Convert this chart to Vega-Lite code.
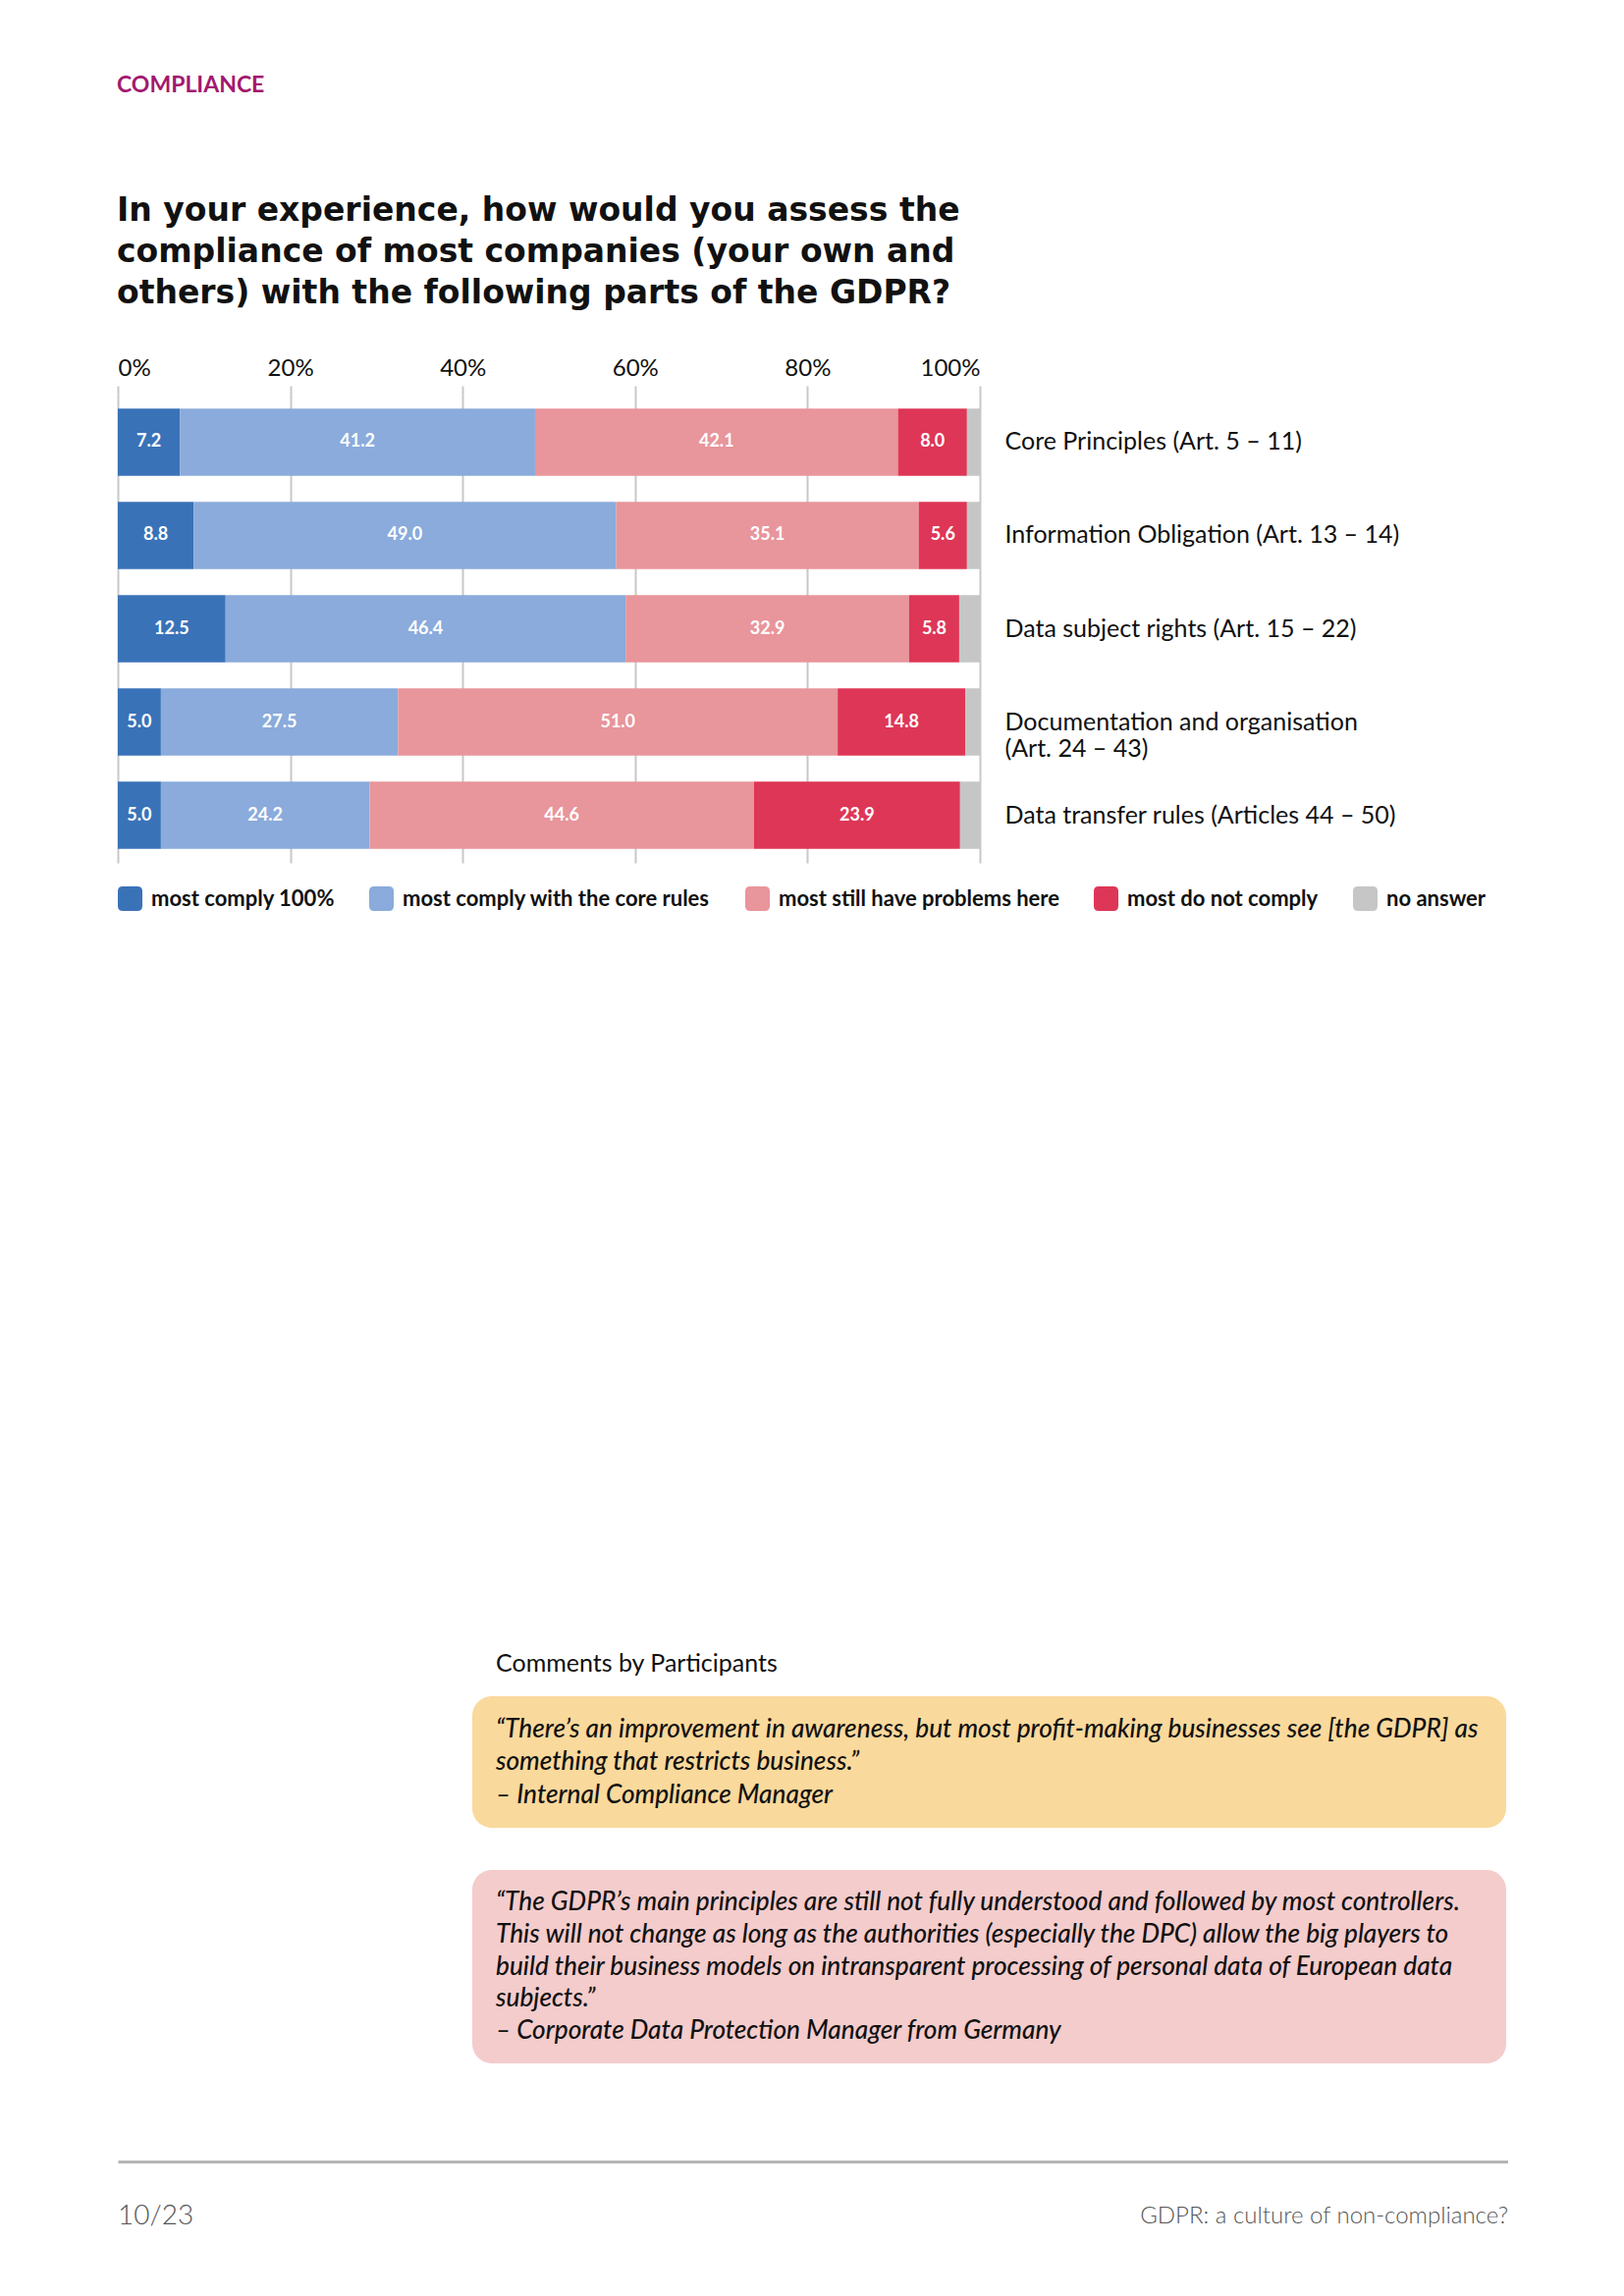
{
  "$schema": "https://vega.github.io/schema/vega-lite/v6.json",
  "background": "white",
  "padding": {"left": 119, "top": 76, "right": 0, "bottom": 0},
  "config": {
    "view": {"stroke": null},
    "font": "Lato",
    "text": {"font": "Lato"}
  },
  "resolve": {"legend": {"color": "independent"}, "scale": {"color": "independent", "x": "independent", "y": "independent"}},
  "spacing": 755,
  "vconcat": [
    {
      "title": {
        "text": "COMPLIANCE",
        "subtitle": ["In your experience, how would you assess the", "compliance of most companies (your own and", "others) with the following parts of the GDPR?"],
        "anchor": "start",
        "font": "Lato",
        "fontSize": 23,
        "fontWeight": "bold",
        "letterSpacing": 1.2,
        "color": "#a2186f",
        "subtitleFont": "DejaVu Sans",
        "subtitleFontSize": 33,
        "subtitleFontWeight": "bold",
        "subtitleColor": "#111111",
        "subtitleLineHeight": 42,
        "subtitlePadding": 100,
        "offset": 47
      },
      "width": 878,
      "height": 477,
      "data": {
        "values": [
          {"topic": "Core Principles (Art. 5 – 11)", "response": "most comply 100%", "idx": 1, "value": 7.2},
          {"topic": "Core Principles (Art. 5 – 11)", "response": "most comply with the core rules", "idx": 2, "value": 41.2},
          {"topic": "Core Principles (Art. 5 – 11)", "response": "most still have problems here", "idx": 3, "value": 42.1},
          {"topic": "Core Principles (Art. 5 – 11)", "response": "most do not comply", "idx": 4, "value": 8.0},
          {"topic": "Core Principles (Art. 5 – 11)", "response": "no answer", "idx": 5, "value": 1.5},
          {"topic": "Information Obligation (Art. 13 – 14)", "response": "most comply 100%", "idx": 1, "value": 8.8},
          {"topic": "Information Obligation (Art. 13 – 14)", "response": "most comply with the core rules", "idx": 2, "value": 49.0},
          {"topic": "Information Obligation (Art. 13 – 14)", "response": "most still have problems here", "idx": 3, "value": 35.1},
          {"topic": "Information Obligation (Art. 13 – 14)", "response": "most do not comply", "idx": 4, "value": 5.6},
          {"topic": "Information Obligation (Art. 13 – 14)", "response": "no answer", "idx": 5, "value": 1.5},
          {"topic": "Data subject rights (Art. 15 – 22)", "response": "most comply 100%", "idx": 1, "value": 12.5},
          {"topic": "Data subject rights (Art. 15 – 22)", "response": "most comply with the core rules", "idx": 2, "value": 46.4},
          {"topic": "Data subject rights (Art. 15 – 22)", "response": "most still have problems here", "idx": 3, "value": 32.9},
          {"topic": "Data subject rights (Art. 15 – 22)", "response": "most do not comply", "idx": 4, "value": 5.8},
          {"topic": "Data subject rights (Art. 15 – 22)", "response": "no answer", "idx": 5, "value": 2.4},
          {"topic": "Documentation and organisation|(Art. 24 – 43)", "response": "most comply 100%", "idx": 1, "value": 5.0},
          {"topic": "Documentation and organisation|(Art. 24 – 43)", "response": "most comply with the core rules", "idx": 2, "value": 27.5},
          {"topic": "Documentation and organisation|(Art. 24 – 43)", "response": "most still have problems here", "idx": 3, "value": 51.0},
          {"topic": "Documentation and organisation|(Art. 24 – 43)", "response": "most do not comply", "idx": 4, "value": 14.8},
          {"topic": "Documentation and organisation|(Art. 24 – 43)", "response": "no answer", "idx": 5, "value": 1.7},
          {"topic": "Data transfer rules (Articles 44 – 50)", "response": "most comply 100%", "idx": 1, "value": 5.0},
          {"topic": "Data transfer rules (Articles 44 – 50)", "response": "most comply with the core rules", "idx": 2, "value": 24.2},
          {"topic": "Data transfer rules (Articles 44 – 50)", "response": "most still have problems here", "idx": 3, "value": 44.6},
          {"topic": "Data transfer rules (Articles 44 – 50)", "response": "most do not comply", "idx": 4, "value": 23.9},
          {"topic": "Data transfer rules (Articles 44 – 50)", "response": "no answer", "idx": 5, "value": 2.3}
        ]
      },
      "encoding": {
        "y": {
          "field": "topic",
          "type": "nominal",
          "sort": null,
          "scale": {"paddingInner": 0.28, "paddingOuter": 0.15},
          "axis": {
            "orient": "right",
            "title": null,
            "domain": false,
            "ticks": false,
            "labelPadding": 25,
            "labelFont": "Lato",
            "labelFontSize": 25,
            "labelColor": "#111111",
            "labelLimit": 700,
            "labelLineHeight": 27,
            "labelExpr": "split(datum.label, '|')"
          }
        }
      },
      "layer": [
        {
          "mark": {"type": "bar"},
          "encoding": {
            "x": {
              "field": "value",
              "type": "quantitative",
              "stack": "zero",
              "scale": {"domain": [0, 100], "nice": false},
              "axis": {
                "orient": "top",
                "title": null,
                "values": [0, 20, 40, 60, 80, 100],
                "labelExpr": "datum.value + '%'",
                "labelFont": "Lato",
                "labelFontSize": 24,
                "labelColor": "#111111",
                "labelFlush": true,
                "labelPadding": 6,
                "domain": false,
                "grid": true,
                "gridColor": "#c8c8c8",
                "gridWidth": 2,
                "tickColor": "#c8c8c8",
                "tickWidth": 2,
                "tickSize": 9
              }
            },
            "color": {
              "field": "response",
              "type": "nominal",
              "scale": {
                "domain": ["most comply 100%", "most comply with the core rules", "most still have problems here", "most do not comply", "no answer"],
                "range": ["#3a72b8", "#8aabdb", "#e8959b", "#de3656", "#c6c6c6"]
              },
              "legend": {
                "orient": "bottom",
                "direction": "horizontal",
                "title": null,
                "offset": 24,
                "symbolType": "M-0.6,-1H0.6Q1,-1,1,-0.6V0.6Q1,1,0.6,1H-0.6Q-1,1,-1,0.6V-0.6Q-1,-1,-0.6,-1Z",
                "symbolSize": 625,
                "symbolStrokeWidth": 0,
                "symbolOpacity": 1,
                "labelFont": "Lato",
                "labelFontSize": 22,
                "labelFontWeight": "bold",
                "labelColor": "#111111",
                "labelOffset": 9,
                "labelLimit": 500,
                "columnPadding": 35
              }
            },
            "order": {"field": "idx", "type": "quantitative"}
          }
        },
        {
          "transform": [{"filter": "datum.response != 'no answer'"}],
          "mark": {"type": "text", "color": "white", "font": "Lato", "fontSize": 18, "fontWeight": "bold", "align": "center", "baseline": "middle"},
          "encoding": {
            "x": {"field": "value", "type": "quantitative", "stack": "zero", "bandPosition": 0.5},
            "text": {"field": "value", "type": "quantitative", "format": ".1f"},
            "order": {"field": "idx", "type": "quantitative"}
          }
        }
      ]
    },
    {
      "spacing": 100,
      "vconcat": [
        {
          "spacing": 0,
          "hconcat": [
            {
              "width": 361,
              "height": 10,
              "data": {"values": []},
              "mark": "text",
              "encoding": {}
            },
            {
              "spacing": 43,
              "vconcat": [
                {
                  "title": {
                    "text": "Comments by Participants",
                    "anchor": "start",
                    "dx": 24,
                    "font": "Lato",
                    "fontSize": 25,
                    "fontWeight": "normal",
                    "color": "#111111",
                    "offset": 20
                  },
                  "width": 1053,
                  "height": 134,
                  "view": {"fill": "#fad99c", "cornerRadius": 20, "stroke": null},
                  "data": {
                    "values": [
                      {"line": 1, "text": "“There’s an improvement in awareness, but most profit-making businesses see [the GDPR] as"},
                      {"line": 2, "text": "something that restricts business.”"},
                      {"line": 3, "text": "– Internal Compliance Manager"}
                    ]
                  },
                  "mark": {"type": "text", "align": "left", "baseline": "middle", "font": "Lato", "fontSize": 26.2, "fontStyle": "italic", "fontWeight": 500, "color": "#111111"},
                  "encoding": {
                    "x": {"datum": 0, "type": "quantitative", "scale": {"domain": [-0.0233, 1]}, "axis": null},
                    "y": {"field": "line", "type": "ordinal", "scale": {"type": "point", "padding": 1.2}, "axis": null},
                    "text": {"field": "text"}
                  }
                },
                {
                  "width": 1053,
                  "height": 197,
                  "view": {"fill": "#f4cccc", "cornerRadius": 20, "stroke": null},
                  "data": {
                    "values": [
                      {"line": 1, "text": "“The GDPR’s main principles are still not fully understood and followed by most controllers."},
                      {"line": 2, "text": "This will not change as long as the authorities (especially the DPC) allow the big players to"},
                      {"line": 3, "text": "build their business models on intransparent processing of personal data of European data"},
                      {"line": 4, "text": "subjects.”"},
                      {"line": 5, "text": "– Corporate Data Protection Manager from Germany"}
                    ]
                  },
                  "mark": {"type": "text", "align": "left", "baseline": "middle", "font": "Lato", "fontSize": 26.2, "fontStyle": "italic", "fontWeight": 500, "color": "#111111"},
                  "encoding": {
                    "x": {"datum": 0, "type": "quantitative", "scale": {"domain": [-0.0233, 1]}, "axis": null},
                    "y": {"field": "line", "type": "ordinal", "scale": {"type": "point", "padding": 1.25}, "axis": null},
                    "text": {"field": "text"}
                  }
                }
              ]
            }
          ]
        },
        {
          "width": 1416,
          "height": 112,
          "data": {
            "values": [
              {"side": "left", "text": "10/23"},
              {"side": "right", "text": "GDPR: a culture of non-compliance?"}
            ]
          },
          "encoding": {
            "x": {
              "field": "side",
              "type": "nominal",
              "scale": {"type": "point", "domain": ["left", "right"], "padding": 0},
              "axis": {"orient": "top", "title": null, "labels": false, "ticks": false, "grid": false, "domain": true, "domainColor": "#b5b5b5", "domainWidth": 3}
            },
            "text": {"field": "text"}
          },
          "layer": [
            {
              "transform": [{"filter": "datum.side == 'left'"}],
              "mark": {"type": "text", "align": "left", "baseline": "middle", "font": "Lato", "fontSize": 28, "fontWeight": 300, "letterSpacing": 1.5, "color": "#555555"}
            },
            {
              "transform": [{"filter": "datum.side == 'right'"}],
              "mark": {"type": "text", "align": "right", "baseline": "middle", "font": "Lato", "fontSize": 24, "fontWeight": 300, "color": "#555555", "letterSpacing": 1.2}
            }
          ]
        }
      ]
    }
  ]
}
